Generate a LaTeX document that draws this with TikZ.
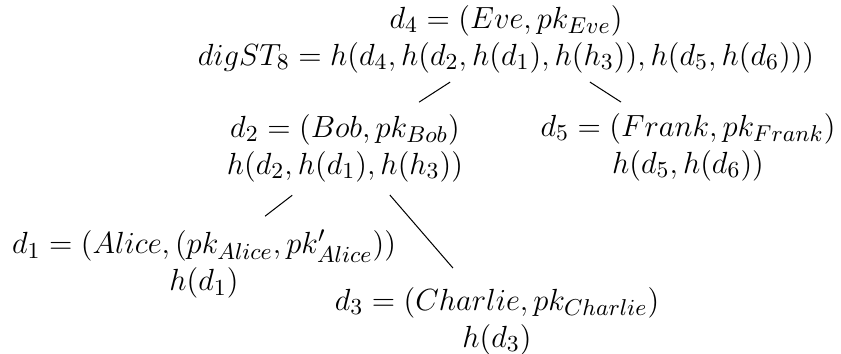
\documentclass[tikz,border=0pt]{standalone}
\DeclareMathSizes{12}{12}{9}{7}
\begin{document}
\begin{tikzpicture}[x=0.3922pt,y=-0.3922pt,
  tnode/.style={align=center,inner sep=1pt,font=\fontsize{12}{14.5}\selectfont},
  tedge/.style={draw=black,line width=0.4pt}]
\useasboundingbox (0,0) rectangle (841,354);
\node[tnode] (root) at (506,39) {$d_4 = (Eve, pk_{Eve})$\\$digST_8 = h(d_4, h(d_2, h(d_1), h(h_3)), h(d_5, h(d_6)))$};
\node[tnode] (bob) at (345,148) {$d_2 = (Bob, pk_{Bob})$\\$h(d_2, h(d_1), h(h_3))$};
\node[tnode] (frank) at (688,147) {$d_5 = (Frank, pk_{Frank})$\\$h(d_5, h(d_6))$};
\node[tnode] (alice) at (204,264) {$d_1 = (Alice, (pk_{Alice}, pk'_{Alice}))$\\$h(d_1)$};
\node[tnode] (charlie) at (497,321) {$d_3 = (Charlie, pk_{Charlie})$\\$h(d_3)$};
\draw[tedge,shorten <=32.63pt,shorten >=33.18pt] ([shift={(14,-2)}]root.center) -- ([shift={(3,0)}]bob.center);
\draw[tedge,shorten <=32.63pt,shorten >=32.55pt] ([shift={(14,-2)}]root.center) -- ([shift={(2.75,0)}]frank.center);
\draw[tedge,shorten <=29.1pt,shorten >=30.75pt] ([shift={(6,2)}]bob.center) -- ([shift={(-1,0)}]alice.center);
\draw[tedge,shorten <=23.33pt,shorten >=27.45pt] ([shift={(6,2)}]bob.center) -- ([shift={(1.7,0)}]charlie.center);
\end{tikzpicture}
\end{document}
